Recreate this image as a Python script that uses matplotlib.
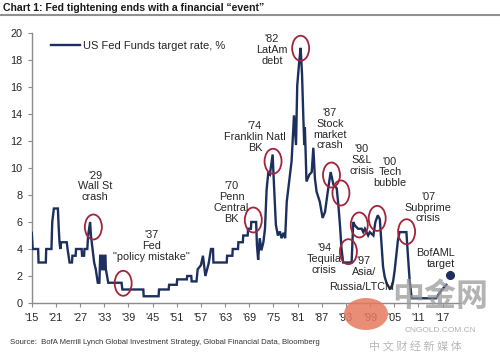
import matplotlib
matplotlib.use("Agg")
import matplotlib.pyplot as plt
from matplotlib.patches import Ellipse, Circle

# ---------------- data ----------------
years = [1915.0, 1915.25, 1916.6, 1916.7, 1918.5, 1918.6, 1919.9, 1920.1, 1920.5, 1921.5,
         1921.7, 1921.9, 1922.1, 1922.3, 1923.7, 1923.9, 1924.4, 1925.0, 1925.1, 1925.9,
         1926.0, 1927.4, 1927.5, 1928.0, 1928.1, 1928.8, 1929.0, 1929.5, 1929.7, 1930.1,
         1930.5, 1930.9, 1931.4, 1931.8, 1932.0, 1932.4, 1932.5, 1932.9, 1933.0, 1933.3,
         1933.4, 1933.7, 1934.0, 1937.3, 1937.5, 1942.7, 1942.8, 1946.5, 1946.6, 1949.0,
         1949.1, 1951.0, 1951.1, 1953.5, 1953.6, 1954.6, 1954.7, 1955.9, 1956.2, 1957.0,
         1957.5, 1958.1, 1958.9, 1959.5, 1960.0, 1960.1, 1963.4, 1963.5, 1964.8, 1964.9,
         1966.2, 1966.3, 1967.4, 1967.5, 1968.6, 1968.7, 1969.4, 1969.5, 1970.7, 1970.9,
         1971.2, 1971.6, 1972.0, 1972.5, 1972.9, 1973.3, 1973.7, 1974.1, 1974.8, 1975.0,
         1975.6, 1976.1, 1976.6, 1977.0, 1977.5, 1977.9, 1978.3, 1979.1, 1979.5, 1980.1,
         1980.6, 1980.9, 1981.4, 1981.75, 1982.1, 1982.4, 1982.65, 1982.8, 1983.2, 1983.9,
         1984.5, 1984.9, 1985.3, 1985.7, 1986.5, 1987.2, 1987.8, 1988.6, 1989.2, 1989.9,
         1990.7, 1991.1, 1991.5, 1991.9, 1992.3, 1994.4, 1994.8, 1995.2, 1996.0, 1996.9,
         1997.3, 1997.7, 1998.5, 1998.9, 1999.8, 2000.3, 2000.9, 2001.4, 2001.85, 2002.2,
         2002.6, 2003.1, 2003.9, 2004.3, 2004.7, 2005.1, 2005.5, 2005.9, 2006.3, 2008.0,
         2008.4, 2008.8, 2009.3, 2015.4, 2015.9, 2016.6, 2017.9]
rates = [5.2, 4.0, 4.0, 3.0, 3.0, 4.0, 4.0, 6.0, 7.0, 7.0,
         5.6, 4.5, 4.0, 4.5, 4.5, 4.0, 3.0, 3.0, 3.5, 3.5,
         4.0, 4.0, 3.5, 3.5, 4.0, 4.0, 5.0, 6.0, 5.0, 4.0,
         3.0, 2.5, 1.5, 1.5, 3.5, 3.5, 2.5, 2.5, 3.5, 3.5,
         2.5, 2.0, 1.5, 1.5, 1.0, 1.0, 0.5, 0.5, 1.0, 1.0,
         1.35, 1.35, 1.75, 1.75, 2.0, 2.0, 1.6, 1.6, 2.5, 2.8,
         3.5, 2.0, 2.9, 4.0, 4.0, 3.0, 3.0, 3.5, 3.5, 4.0,
         4.0, 4.5, 4.5, 5.0, 5.0, 5.5, 5.5, 6.0, 6.0, 4.3,
         3.2, 4.8, 3.9, 4.5, 5.5, 8.4, 9.6, 9.5, 11.0, 9.6,
         5.8, 5.0, 5.3, 4.8, 5.2, 4.8, 7.5, 9.5, 10.5, 13.9,
         11.7, 16.1, 17.9, 18.9, 16.9, 13.9, 11.7, 13.0, 9.0, 9.5,
         9.7, 11.5, 9.2, 8.25, 7.5, 6.3, 6.75, 8.5, 9.7, 8.75,
         8.5, 7.3, 5.8, 4.0, 3.0, 3.0, 6.0, 5.75, 5.5, 5.5,
         5.25, 5.5, 5.0, 5.25, 5.0, 6.0, 6.5, 6.2, 4.2, 2.7,
         1.95, 1.45, 1.05, 1.1, 1.6, 2.45, 3.55, 4.67, 5.25, 5.25,
         3.4, 1.7, 0.35, 0.35, 0.6, 0.9, 1.35]

target_year = [2018.8]
target_rate = [2.07]

tick_years = list(range(1915, 2018, 6))
tick_labels = ["'" + str(y)[2:] for y in tick_years]
ytick_vals = list(range(0, 21, 2))

event_labels = ["'29\nWall St\ncrash", "'37\nFed\n\"policy mistake\"", "'70\nPenn\nCentral\nBK",
                "'74\nFranklin Natl\nBK", "'82\nLatAm\ndebt", "'87\nStock\nmarket\ncrash",
                "'90\nS&L\ncrisis", "'00\nTech\nbubble", "'07\nSubprime\ncrisis",
                "'94\nTequila\ncrisis", "'97\nAsia/", "Russia/LTCM"]
label_x = [1930.7, 1944.8, 1964.6, 1970.4, 1974.6, 1989.0, 1996.9, 2003.9, 2013.4, 1987.6, 1997.4, 1996.9]
label_y = [8.64, 4.24, 7.44, 12.3, 18.74, 12.87, 10.6, 9.67, 7.07, 3.24, 2.7, 1.22]

circle_x = [1930.3, 1937.7, 1970.0, 1974.9, 1981.75, 1989.4, 1991.75, 1993.6, 1996.3, 2000.75, 2008.05]
circle_y = [5.63, 1.46, 6.15, 10.5, 18.87, 9.48, 8.15, 3.8, 5.78, 6.27, 5.28]

# ---------------- styling ----------------
FONT = ['Liberation Sans Narrow', 'Liberation Sans', 'DejaVu Sans']
plt.rcParams['font.family'] = FONT
NAVY = '#1c2f5e'
RED = '#a3243b'
TXT = '#262626'
GRAY = '#8c8c8c'

fig = plt.figure(figsize=(5.0, 3.63), dpi=100)
ax = fig.add_axes([31.7/500, 1-303/363, (460-31.7)/500, (303-33)/363])
ax.set_xlim(1915, 2021.3)
ax.set_ylim(0, 20)

ax.plot(years, rates, color=NAVY, lw=1.7, solid_joinstyle='miter', zorder=3,
        label='US Fed Funds target rate, %')
ax.plot(target_year, target_rate, 'o', color=NAVY, ms=5.5, zorder=4)

for cx, cy in zip(circle_x, circle_y):
    ax.add_patch(Ellipse((cx, cy), width=17/4.03, height=25/13.5, fill=False,
                         edgecolor=RED, lw=1.3, zorder=5))

for t, lx, ly in zip(event_labels, label_x, label_y):
    ax.text(lx, ly, t, ha='center', va='center', fontsize=7.8, color=TXT,
            linespacing=1.1, zorder=6)
ax.text(2020.0, 3.3, "BofAML\ntarget", ha='right', va='center', fontsize=7.8,
        color=TXT, linespacing=1.1, zorder=6)

for s in ['top', 'right']:
    ax.spines[s].set_visible(False)
for s in ['left', 'bottom']:
    ax.spines[s].set_color(GRAY)
    ax.spines[s].set_linewidth(1.0)
ax.set_xticks(tick_years)
ax.set_xticklabels(tick_labels)
ax.set_yticks(ytick_vals)
ax.tick_params(axis='both', colors=GRAY, labelcolor=TXT, labelsize=7.8, length=3, width=0.8)
ax.tick_params(axis='x', pad=4)

leg = ax.legend(loc='upper left', bbox_to_anchor=(0.03, 0.995), frameon=False,
                fontsize=8, handlelength=2.6, handletextpad=0.3, borderaxespad=0.2)
for txt in leg.get_texts():
    txt.set_color(TXT)

# title and underline
fig.text(3/500, 1-8/363, "Chart 1: Fed tightening ends with a financial \u201cevent\u201d",
         ha='left', va='center', fontsize=7.6, fontweight='bold', color='#1a1a1a')
fig.add_artist(plt.Line2D([0, 1], [1-15/363, 1-15/363], color='#8a9292', lw=1.5,
                          transform=fig.transFigure))

# source
fig.text(10/500, 1-342/363,
         "Source:  BofA Merrill Lynch Global Investment Strategy, Global Financial Data, Bloomberg",
         ha='left', va='center', fontsize=5.6, color='#333333')

# watermark
fig.add_artist(Circle((366/500, 1-314/363), 22/500, transform=fig.transFigure,
                      facecolor='#e6795f', edgecolor='none', alpha=0.85, zorder=10))
fig.text(440/500, 1-297/363, "中金网", ha='center', va='center', fontsize=23,
         color='#9a9a9a', alpha=0.75, family=['Noto Sans CJK SC', 'DejaVu Sans'],
         fontweight='bold', zorder=10)
fig.text(440/500, 1-331/363, "CNGOLD.COM.CN", ha='center', va='center', fontsize=6,
         color='#b0b0b0', zorder=10)
fig.text(415/500, 1-346/363, "中 文 财 经 新 媒 体", ha='center', va='center', fontsize=8,
         color='#b8b8b8', family=['Noto Sans CJK SC', 'DejaVu Sans'], zorder=10)

fig.savefig('out.png', dpi=100)
